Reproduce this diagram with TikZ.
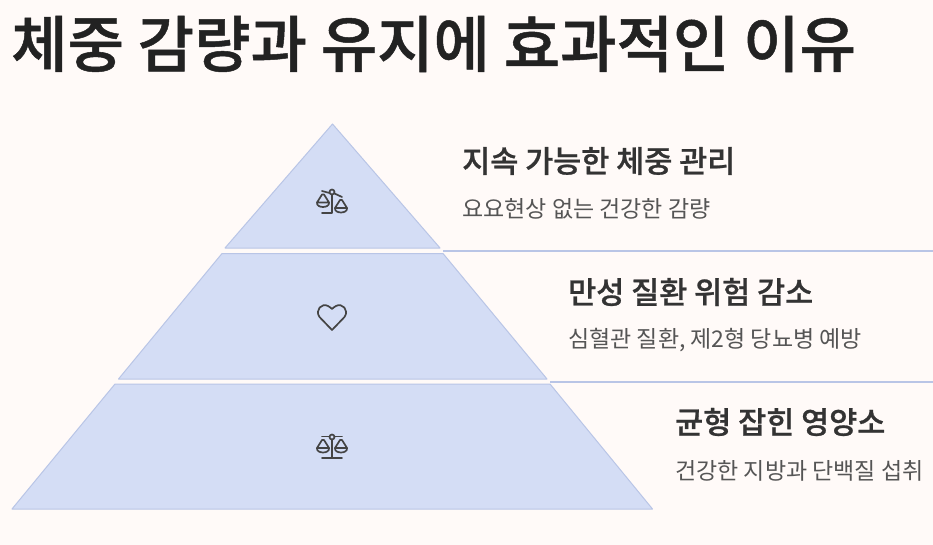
\documentclass[tikz,border=0pt]{standalone}
\usepackage{fontspec}
\setmainfont[BoldFont={Noto Sans CJK KR Medium},BoldFeatures={FakeBold=0.8}]{Noto Sans CJK KR}
\definecolor{paper}{HTML}{FFFAF8}
\definecolor{layerfill}{HTML}{D4DDF5}
\definecolor{layerline}{HTML}{B9C5E6}
\definecolor{inkdark}{HTML}{222222}
\definecolor{inkhead}{HTML}{333333}
\definecolor{inksub}{HTML}{555555}
\definecolor{inkicon}{HTML}{444444}
\tikzset{
  layer/.style={fill=layerfill,draw=layerline,line width=1pt,line join=round},
  rulerline/.style={draw=layerline,line width=1.2pt},
  headtext/.style={anchor=west,inner sep=0pt,text=inkhead,font=\fontsize{30.5}{36}\selectfont\bfseries},
  subtext/.style={anchor=west,inner sep=0pt,text=inksub,font=\fontsize{23}{28}\selectfont},
  iconline/.style={draw=inkicon,line width=1.7pt,line cap=round,line join=round},
  pan/.pic={
    \draw[iconline] (-1,-8) -- (-6,0) -- (6,0) -- (1,-8) -- cycle;
    \draw[iconline] (-6,0) .. controls (-7,6) and (7,6) .. (6,0);
  }
}
\begin{document}
\begin{tikzpicture}[x=1pt,y=-1pt]
\useasboundingbox (0,0) rectangle (933,545);
\fill[paper] (0,0) rectangle (933,545);
% title
\node[anchor=west,inner sep=0pt,text=inkdark,font=\fontsize{61.3}{70}\selectfont\bfseries] (title) at (11,44) {체중 감량과 유지에 효과적인 이유};

% layers
\draw[layer] (332.5,124) -- (440,248) -- (225,248) -- cycle;
\draw[layer] (222,253.5) -- (443,253.5) -- (547,379) -- (118.5,379) -- cycle;
\draw[layer] (115,384) -- (550,384) -- (652.5,509) -- (12,509) -- cycle;

% rulers
\coordinate (ruleAa) at (443,251);
\coordinate (ruleAb) at (933,251);
\coordinate (ruleBa) at (550,382);
\coordinate (ruleBb) at (933,382);
\draw[rulerline] (ruleAa) -- (ruleAb);
\draw[rulerline] (ruleBa) -- (ruleBb);

% top labels
\node[headtext] (headA) at (462,161) {지속 가능한 체중 관리};
\node[subtext] (subA) at (462,209) {요요현상 없는 건강한 감량};
% middle labels
\node[headtext] (headB) at (568,292) {만성 질환 위험 감소};
\node[subtext] (subB) at (568,340) {심혈관 질환, 제2형 당뇨병 예방};
% bottom labels
\node[headtext] (headC) at (675,422) {균형 잡힌 영양소};
\node[subtext] (subC) at (675,471) {건강한 지방과 단백질 섭취};

% tilted scale
\begin{scope}[shift={(332,202)}]
\draw[iconline] (0,-8) -- (0,11) (-10,11) -- (0,11);
\draw[iconline] (-10,-11) -- (-2.5,-9) (2.5,-8.5) -- (10,-5);
\draw[iconline,fill=layerfill] (0,-10) circle (2.5);
\pic at (-9,0.5) {pan};
\pic at (9,6) {pan};
\end{scope}

% heart
\draw[iconline] (332,330) -- (319.5,317) .. controls (314.5,310) and (322,302.5) .. (328,306)
  .. controls (330,307) and (331,308) .. (332,309) .. controls (333,308) and (334,307) .. (336,306)
  .. controls (342,302.5) and (349.5,310) .. (344.5,317) -- cycle;

% level scale
\begin{scope}[shift={(332,447)}]
\draw[iconline] (0,-8) -- (0,11) (-10,11) -- (10,11);
\draw[iconline] (-10,-10.5) -- (-2.5,-10.5) (2.5,-10.5) -- (10,-10.5);
\draw[iconline,fill=layerfill] (0,-10) circle (2.5);
\pic at (-9,1) {pan};
\pic at (9,1) {pan};
\end{scope}
\end{tikzpicture}
\end{document}
